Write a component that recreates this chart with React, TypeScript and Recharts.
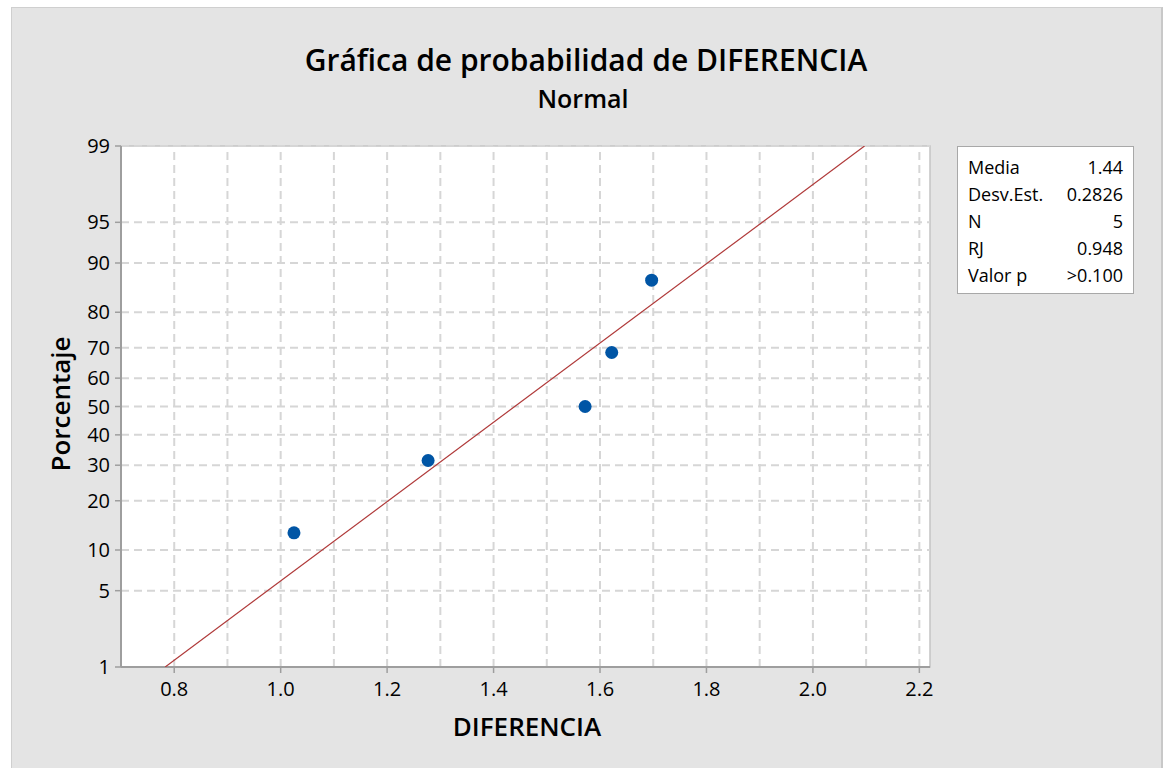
import React from 'react';
import {
  ScatterChart,
  Scatter,
  XAxis,
  YAxis,
  CartesianGrid,
  ReferenceLine,
  ReferenceArea,
} from 'recharts';

// observed values (DIFERENCIA) and their plotted percentages
const diferencia = [1.025, 1.277, 1.572, 1.622, 1.697];
const porcentaje = [12.96, 31.48, 50.0, 68.52, 87.04];

// fitted normal line end points (x, percent)
const fitX = [0.783, 2.097];
const fitP = [1, 99];

const xTicks = [0.8, 1.0, 1.2, 1.4, 1.6, 1.8, 2.0, 2.2];
const xGrid = [0.8, 0.9, 1.0, 1.1, 1.2, 1.3, 1.4, 1.5, 1.6, 1.7, 1.8, 1.9, 2.0, 2.1, 2.2];
const yTicks = [1, 5, 10, 20, 30, 40, 50, 60, 70, 80, 90, 95, 99];

const statLabels = ['Media', 'Desv.Est.', 'N', 'RJ', 'Valor p'];
const statValues = ['1.44', '0.2826', '5', '0.948', '>0.100'];

// inverse of the standard normal CDF (Acklam), used for the probability scale
function probit(p: number): number {
  const a = [-39.69683028665376, 220.9460984245205, -275.9285104469687, 138.357751867269, -30.66479806614716, 2.506628277459239];
  const b = [-54.47609879822406, 161.5858368580409, -155.6989798598866, 66.80131188771972, -13.28068155288572];
  const c = [-0.007784894002430293, -0.3223964580411365, -2.400758277161838, -2.549732539343734, 4.374664141464968, 2.938163982698783];
  const d = [0.007784695709041462, 0.3224671290700398, 2.445134137142996, 3.754408661907416];
  const pl = 0.02425;
  if (p < pl) {
    const q = Math.sqrt(-2 * Math.log(p));
    return (((((c[0] * q + c[1]) * q + c[2]) * q + c[3]) * q + c[4]) * q + c[5]) /
      ((((d[0] * q + d[1]) * q + d[2]) * q + d[3]) * q + 1);
  }
  if (p > 1 - pl) {
    const q = Math.sqrt(-2 * Math.log(1 - p));
    return -(((((c[0] * q + c[1]) * q + c[2]) * q + c[3]) * q + c[4]) * q + c[5]) /
      ((((d[0] * q + d[1]) * q + d[2]) * q + d[3]) * q + 1);
  }
  const q = p - 0.5;
  const r = q * q;
  return (((((a[0] * r + a[1]) * r + a[2]) * r + a[3]) * r + a[4]) * r + a[5]) * q /
    (((((b[0] * r + b[1]) * r + b[2]) * r + b[3]) * r + b[4]) * r + 1);
}

const z = (pct: number) => probit(pct / 100);

const points = diferencia.map((x, i) => ({ x, z: z(porcentaje[i]) }));
const fitLine = fitX.map((x, i) => ({ x, z: z(fitP[i]) }));

const zMin = z(1);
const zMax = z(99);
const font = "'Open Sans', 'Noto Sans', sans-serif";

const YTick = (props: any) => {
  const { x, y, payload } = props;
  const pct = yTicks.find((t) => Math.abs(z(t) - payload.value) < 1e-6);
  return (
    <text x={x - 3} y={y} dy={7} textAnchor="end" fontSize={20} fontWeight={500} fill="#000" fontFamily={font}>
      {pct}
    </text>
  );
};

const XTick = (props: any) => {
  const { x, y, payload } = props;
  return (
    <text x={x} y={y} dy={21} textAnchor="middle" fontSize={20} fontWeight={500} fill="#000" fontFamily={font}>
      {payload.value.toFixed(1)}
    </text>
  );
};

const Dot = (props: any) => {
  const { cx, cy } = props;
  return <circle cx={cx} cy={cy} r={6.5} fill="#0055A5" />;
};

export default function App() {
  return (
    <div style={{ position: 'absolute', left: 0, top: 0, width: 1166, height: 768, background: '#fff', overflow: 'hidden' }}>
      <div
        style={{
          position: 'absolute',
          left: 11,
          top: 7,
          width: 1149,
          height: 770,
          background: '#E4E4E4',
          borderLeft: '1px solid #cfcfcf',
          borderTop: '1px solid #cfcfcf',
          borderRight: '2px solid #c8c8c8',
        }}
      />
      <div style={{ position: 'absolute', left: 0, top: 0 }}>
        <ScatterChart width={1166} height={768} margin={{ top: 146, right: 236, bottom: 61, left: 61 }}>
          <CartesianGrid horizontal={false} vertical={false} fill="#fff" />
          {xGrid.map((v) => (
            <ReferenceLine key={'gx' + v} x={v} stroke="#D6D6D6" strokeWidth={2} strokeDasharray="8 5" />
          ))}
          {yTicks.map((t) => (
            <ReferenceLine key={'gy' + t} y={z(t)} stroke="#D6D6D6" strokeWidth={2} strokeDasharray="8 5" />
          ))}
          <ReferenceArea x1={0.7} x2={2.22} y1={zMin} y2={zMax} fill="none" stroke="#C4C4C4" strokeWidth={1.5} />
          <XAxis
            type="number"
            dataKey="x"
            domain={[0.7, 2.22]}
            ticks={xTicks}
            allowDataOverflow
            height={40}
            axisLine={{ stroke: '#9E9E9E', strokeWidth: 2 }}
            tickLine={{ stroke: '#9E9E9E', strokeWidth: 1.5 }}
            tickSize={6}
            tick={<XTick />}
          />
          <YAxis
            type="number"
            dataKey="z"
            domain={[zMin, zMax]}
            ticks={yTicks.map(z)}
            allowDataOverflow
            width={60}
            axisLine={{ stroke: '#9E9E9E', strokeWidth: 2 }}
            tickLine={{ stroke: '#9E9E9E', strokeWidth: 1.5 }}
            tickSize={6}
            tick={<YTick />}
          />
          <Scatter
            data={fitLine}
            line={{ stroke: '#B03A3A', strokeWidth: 1.2 }}
            shape={() => null}
            isAnimationActive={false}
          />
          <Scatter data={points} shape={<Dot />} isAnimationActive={false} />
        </ScatterChart>
      </div>
      <div
        style={{
          position: 'absolute',
          left: 0,
          width: 1172,
          top: 40,
          textAlign: 'center',
          fontFamily: font,
          fontWeight: 600,
          fontSize: 30,
          color: '#000',
          lineHeight: '40px',
        }}
      >
        Gráfica de probabilidad de DIFERENCIA
      </div>
      <div
        style={{
          position: 'absolute',
          left: 0,
          width: 1166,
          top: 82,
          textAlign: 'center',
          fontFamily: font,
          fontWeight: 600,
          fontSize: 25,
          color: '#000',
          lineHeight: '32px',
        }}
      >
        Normal
      </div>
      <div
        style={{
          position: 'absolute',
          left: 427,
          width: 200,
          top: 708,
          textAlign: 'center',
          fontFamily: font,
          fontWeight: 600,
          fontSize: 26,
          color: '#000',
          lineHeight: '36px',
        }}
      >
        DIFERENCIA
      </div>
      <div
        style={{
          position: 'absolute',
          left: -40,
          width: 200,
          top: 386,
          textAlign: 'center',
          fontFamily: font,
          fontWeight: 600,
          fontSize: 26,
          color: '#000',
          lineHeight: '36px',
          transform: 'rotate(-90deg)',
        }}
      >
        Porcentaje
      </div>
      <div
        style={{
          position: 'absolute',
          left: 957,
          top: 146,
          width: 177,
          height: 148,
          background: '#fff',
          border: '1px solid #A8A8A8',
          boxSizing: 'border-box',
          padding: '7px 10px 0 10px',
          fontFamily: font,
          fontSize: 18,
          fontWeight: 500,
          color: '#000',
        }}
      >
        {statLabels.map((l, i) => (
          <div key={l} style={{ display: 'flex', justifyContent: 'space-between', height: 27, lineHeight: '27px' }}>
            <span>{l}</span>
            <span>{statValues[i]}</span>
          </div>
        ))}
      </div>
    </div>
  );
}
